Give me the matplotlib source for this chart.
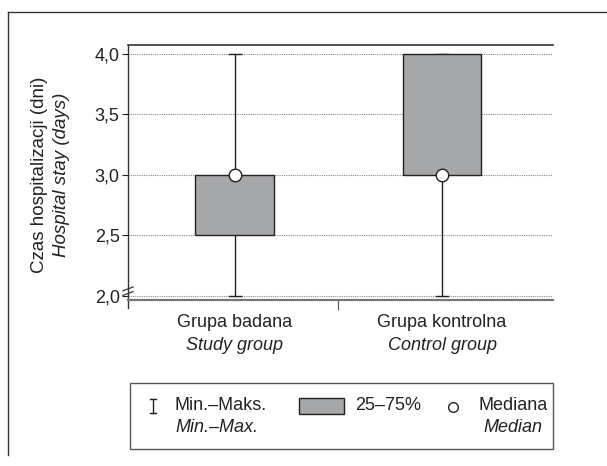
import matplotlib
matplotlib.use("Agg")
import matplotlib.pyplot as plt
from matplotlib.patches import Rectangle
from matplotlib.lines import Line2D

plt.rcParams['font.family'] = ['Liberation Sans', 'DejaVu Sans']

groups_pl = ["Grupa badana", "Grupa kontrolna"]
groups_en = ["Study group", "Control group"]
mins = [2.0, 2.0]
maxs = [4.0, 4.0]
q1 = [2.5, 3.0]
q3 = [3.0, 4.0]
medians = [3.0, 3.0]
yticks = [2.0, 2.5, 3.0, 3.5, 4.0]
ytick_labels = ["2,0", "2,5", "3,0", "3,5", "4,0"]

BOX = "#a6a7a9"
TXT = "#222222"
fig = plt.figure(figsize=(6.07, 4.66), dpi=100)

# outer frame (top and left only)
fig.add_artist(Line2D([8/607, 1.0], [1-12/466, 1-12/466], color="#333333", lw=1.0))
fig.add_artist(Line2D([8/607, 8/607], [1-12/466, 1-455/466], color="#333333", lw=1.0))

ax = fig.add_axes([128/607, 1-300/466, 425/607, 255/466])
ax.set_xlim(0.485, 2.535)
ax.set_ylim(1.967, 4.074)

for y in yticks:
    ax.axhline(y, color="#888888", lw=0.8, ls=(0, (1, 1)), zorder=0)

w = 0.38
for i in range(2):
    x = i + 1
    ax.plot([x, x], [mins[i], maxs[i]], color=TXT, lw=1.0, zorder=2)
    ax.plot([x - 0.028, x + 0.028], [mins[i], mins[i]], color=TXT, lw=1.0, zorder=2)
    ax.plot([x - 0.028, x + 0.028], [maxs[i], maxs[i]], color=TXT, lw=1.0, zorder=2)
    ax.add_patch(Rectangle((x - w/2, q1[i]), w, q3[i]-q1[i], facecolor=BOX,
                           edgecolor=TXT, lw=1.0, zorder=3))
    ax.plot([x], [medians[i]], "o", ms=9, mfc="white", mec=TXT, mew=1.0, zorder=4)

ax.spines['right'].set_visible(False)
ax.spines['top'].set_color("#333333")
ax.spines['top'].set_linewidth(1.2)
ax.spines['bottom'].set_color("#777777")
ax.spines['bottom'].set_linewidth(1.6)
ax.spines['left'].set_color("#333333")
ax.spines['left'].set_linewidth(1.0)
ax.spines['left'].set_bounds(1.90, 4.074)

ax.set_yticks(yticks)
ax.set_yticklabels(ytick_labels, fontsize=13)
ax.tick_params(axis='y', length=4, width=0.8, pad=2, colors=TXT)
ax.set_xticks([1.5])
ax.set_xticklabels([""])
ax.tick_params(axis='x', length=7, width=0.8, colors="#555555")

# break mark on y-axis
for dy in (-0.012, 0.006):
    ax.plot([-0.012, 0.012], [0.03 + dy, 0.045 + dy], transform=ax.transAxes,
            color="#333333", lw=0.9, clip_on=False)

for i in range(2):
    ax.text(i + 1, -0.055, groups_pl[i], transform=ax.get_xaxis_transform(),
            ha="center", va="top", fontsize=13, color=TXT)
    ax.text(i + 1, -0.145, groups_en[i], transform=ax.get_xaxis_transform(),
            ha="center", va="top", fontsize=13, style="italic", color=TXT)

fig.text(40/607, 1-175/466, "Czas hospitalizacji (dni)", rotation=90, ha="center", va="center",
         fontsize=13.5, color=TXT)
fig.text(61/607, 1-175/466, "Hospital stay (days)", rotation=90, ha="center", va="center",
         fontsize=13.5, style="italic", color=TXT)

# legend box
lx0, lx1, ly0, ly1 = 130, 553, 383, 449
fig.add_artist(Rectangle((lx0/607, 1-ly1/466), (lx1-lx0)/607, (ly1-ly0)/466,
                         transform=fig.transFigure, facecolor="white", edgecolor="#555555", lw=1.0))
fy = lambda p: 1 - p/466
fx = lambda p: p/607
# I symbol
fig.add_artist(Line2D([fx(153), fx(153)], [fy(399), fy(413)], color=TXT, lw=1.0))
fig.add_artist(Line2D([fx(150), fx(156)], [fy(399), fy(399)], color=TXT, lw=1.0))
fig.add_artist(Line2D([fx(150), fx(156)], [fy(413), fy(413)], color=TXT, lw=1.0))
fig.text(fx(175), fy(406), "Min.–Maks.", ha="left", va="center", fontsize=13, color=TXT)
fig.text(fx(175), fy(428), "Min.–Max.", ha="left", va="center", fontsize=13, style="italic", color=TXT)
fig.add_artist(Rectangle((fx(299), fy(414)), 45/607, 16/466, transform=fig.transFigure,
                         facecolor=BOX, edgecolor=TXT, lw=1.0))
fig.text(fx(355), fy(406), "25–75%", ha="left", va="center", fontsize=13, color=TXT)
fig.add_artist(Line2D([fx(453)], [fy(407)], marker="o", ms=7, mfc="white", mec=TXT, mew=1.0))
fig.text(fx(478), fy(406), "Mediana", ha="left", va="center", fontsize=13, color=TXT)
fig.text(fx(542), fy(428), "Median", ha="right", va="center", fontsize=13, style="italic", color=TXT)

fig.savefig("out.png", dpi=100)
